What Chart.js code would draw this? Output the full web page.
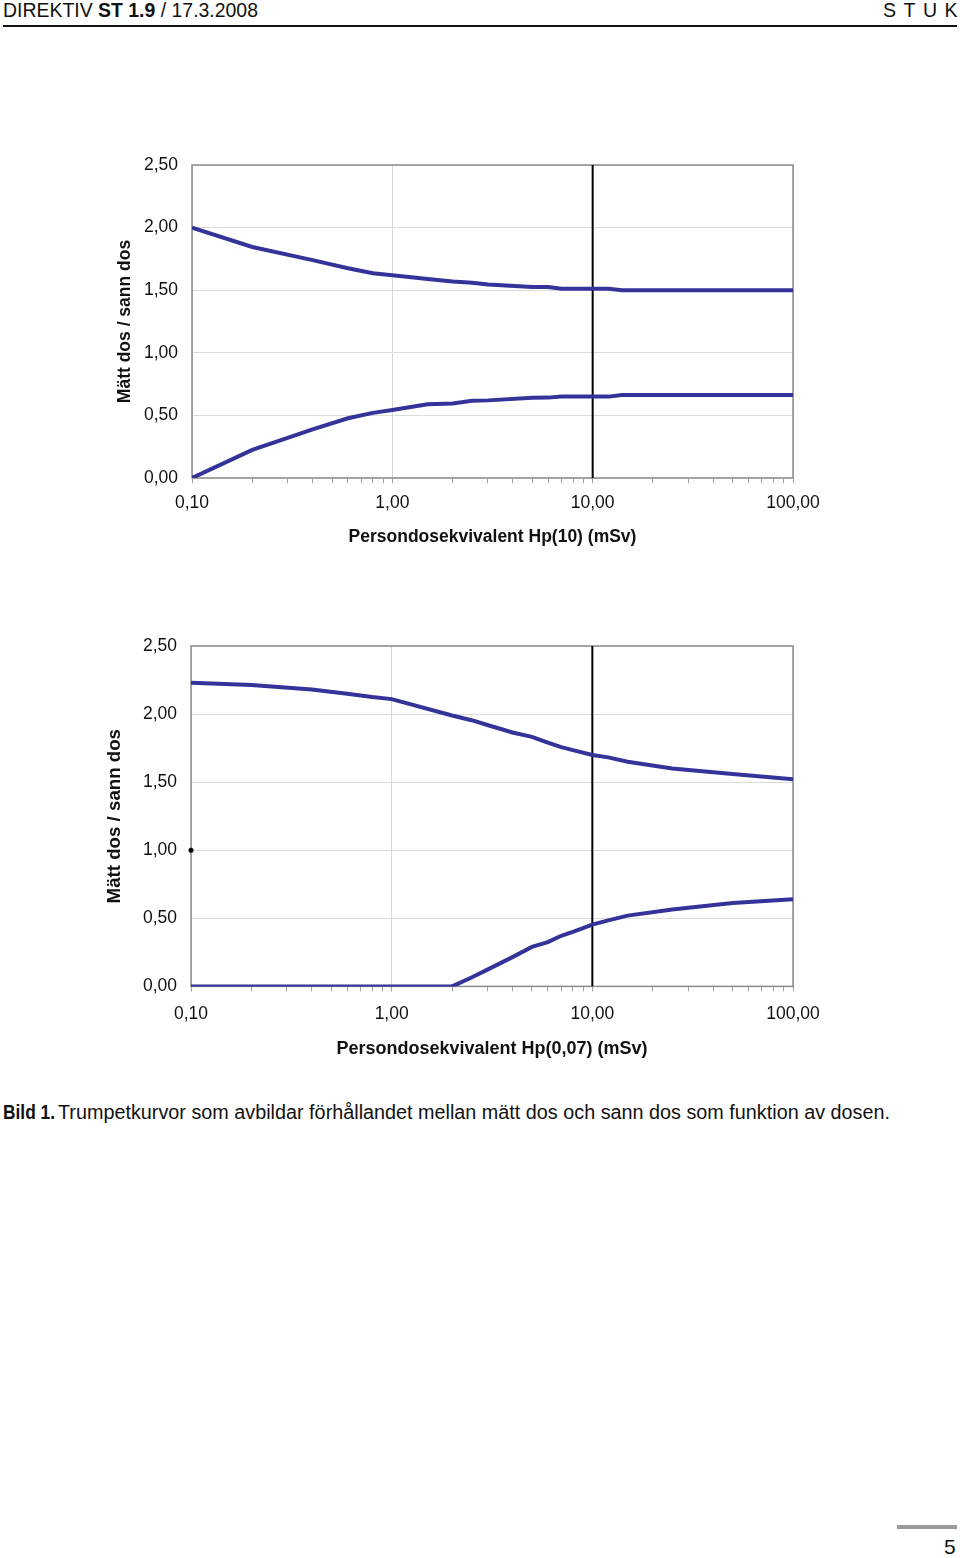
<!DOCTYPE html>
<html>
<head>
<meta charset="utf-8">
<script src="https://cdn.jsdelivr.net/npm/chart.js@4.4.1/dist/chart.umd.min.js"></script>
<style>
  body { margin: 0; background: #fff; width: 960px; height: 1558px; position: relative; overflow: hidden; }
  .abs { position: absolute; white-space: nowrap; }
  .fit { font-family: "Liberation Sans", Arial, sans-serif; color: #111; transform-origin: 0 0; }
  #header { left: 3px; top: -2px; font-size: 21px; }
  #stuk { left: 883px; top: -2px; font-size: 21px; letter-spacing: 8px; }
  #rule { left: 3px; top: 25px; width: 954px; height: 2px; background: #111; }
  #capBold { left: 3px; top: 1101px; font-size: 20px; font-weight: bold; }
  #caption { left: 58px; top: 1101px; font-size: 20px; }
  #pageRule { left: 897px; top: 1525px; width: 60px; height: 4px; background: #9a9a9a; }
  #pageNo { left: 944px; top: 1535px; font-family: "Liberation Sans", sans-serif; font-size: 21px; color: #111; }
</style>
</head>
<body>
<div id="header" class="abs fit" data-w="255">DIREKTIV <b>ST 1.9</b> / 17.3.2008</div>
<div id="stuk" class="abs fit" data-w="82">STUK</div>
<div id="rule" class="abs"></div>

<div class="abs" style="left:100px; top:140px; width:760px; height:420px;"><canvas id="topChart"></canvas></div>
<div class="abs" style="left:90px; top:620px; width:770px; height:450px;"><canvas id="bottomChart"></canvas></div>

<div id="capBold" class="abs fit" data-w="52">Bild 1.</div>
<div id="caption" class="abs fit" data-w="832">Trumpetkurvor som avbildar förhållandet mellan mätt dos och sann dos som funktion av dosen.</div>
<div id="pageRule" class="abs"></div>
<div id="pageNo" class="abs">5</div>

<script>
// x axis ticks (log scale), labelled ones and minor ones
const doseTicks = [0.1, 0.2, 0.3, 0.4, 0.5, 0.6, 0.7, 0.8, 0.9,
                   1, 2, 3, 4, 5, 6, 7, 8, 9,
                   10, 20, 30, 40, 50, 60, 70, 80, 90, 100];
const doseMajor = [0.1, 1, 10, 100];
const doseLabels = ['0,10', '1,00', '10,00', '100,00'];

// vertical reference line at 10 mSv
const limitDose = [10, 10];
const limitRatio = [0, 2.5];

// Hp(10) chart
const topDose  = [0.1, 0.2, 0.4, 0.6, 0.8, 1, 1.5, 2, 2.5, 3, 5, 6, 7, 10, 12, 14, 100];
const topUpper = [2.00, 1.845, 1.74, 1.675, 1.635, 1.62, 1.59, 1.57, 1.56, 1.545, 1.525, 1.525, 1.512, 1.512, 1.512, 1.50, 1.50];
const topLower = [0.00, 0.224, 0.389, 0.477, 0.52, 0.543, 0.589, 0.596, 0.617, 0.62, 0.64, 0.642, 0.65, 0.65, 0.65, 0.663, 0.663];

// Hp(0,07) chart
const botDose  = [0.1, 0.2, 0.4, 0.6, 0.8, 1, 2, 2.5, 3, 4, 5, 6, 7, 8, 10, 12, 15, 25, 50, 100];
const botUpper = [2.23, 2.213, 2.18, 2.15, 2.125, 2.11, 1.99, 1.955, 1.92, 1.865, 1.833, 1.79, 1.757, 1.735, 1.70, 1.682, 1.65, 1.60, 1.56, 1.522];
const botLower = [0, 0, 0, 0, 0, 0, 0, 0.065, 0.123, 0.215, 0.29, 0.325, 0.372, 0.40, 0.454, 0.485, 0.52, 0.564, 0.613, 0.64];
const botMarkDose = [0.1];
const botMarkRatio = [1.0];

const yTicks = [0, 0.5, 1, 1.5, 2, 2.5];

const blue = '#333399';
const fontFamily = "'Liberation Sans', Arial, sans-serif";

// squeeze header/caption text to the narrow print width
document.querySelectorAll('.fit').forEach(el => {
  const w = el.getBoundingClientRect().width;
  el.style.transform = 'scaleX(' + (el.dataset.w / w) + ')';
});

function pts(xs, ys) {
  return xs.map((x, i) => ({ x: x, y: ys[i] }));
}

function isMajor(v) {
  return doseMajor.some(m => Math.abs(m - v) < 1e-9);
}

const frame = {
  id: 'frame',
  beforeDatasetsDraw(chart) {
    const a = chart.chartArea, ctx = chart.ctx;
    ctx.save();
    ctx.strokeStyle = '#8a8a8a';
    ctx.lineWidth = 1.5;
    ctx.strokeRect(a.left, a.top, a.right - a.left, a.bottom - a.top);
    ctx.restore();
  }
};

function makeChart(id, dose, upper, lower, extra, cfg) {
  const datasets = [
    { data: pts(dose, upper), borderColor: blue, borderWidth: 4, pointRadius: 0, tension: 0 },
    { data: pts(dose, lower), borderColor: blue, borderWidth: 4, pointRadius: 0, tension: 0 },
    { data: pts(limitDose, limitRatio), borderColor: '#000', borderWidth: 2, pointRadius: 0 }
  ];
  if (extra) datasets.push(extra);

  return new Chart(document.getElementById(id), {
    type: 'line',
    data: { datasets: datasets },
    options: {
      responsive: true,
      maintainAspectRatio: false,
      animation: false,
      layout: { padding: cfg.padding },
      plugins: { legend: { display: false }, tooltip: { enabled: false } },
      scales: {
        x: {
          type: 'logarithmic',
          min: 0.1,
          max: 100,
          afterBuildTicks: s => { s.ticks = doseTicks.map(v => ({ value: v, major: isMajor(v) })); },
          ticks: {
            autoSkip: false,
            maxRotation: 0,
            padding: cfg.xTickPad,
            color: '#111',
            font: { family: fontFamily, size: 17.5 },
            callback: v => {
              const i = doseMajor.findIndex(m => Math.abs(m - v) < 1e-9);
              return i >= 0 ? doseLabels[i] : '';
            }
          },
          grid: {
            color: c => (c.tick && isMajor(c.tick.value)) ? '#d6d6d6' : 'rgba(0,0,0,0)',
            tickColor: '#a0a0a0',
            tickLength: 5,
            lineWidth: 1
          },
          border: { display: false },
          title: {
            display: true,
            text: cfg.xTitle,
            color: '#111',
            padding: { top: cfg.xTitlePad, bottom: 0 },
            font: { family: fontFamily, size: cfg.titleSize, weight: 'bold' }
          }
        },
        y: {
          min: 0,
          max: 2.5,
          afterBuildTicks: s => { s.ticks = yTicks.map(v => ({ value: v })); },
          afterFit: s => { s.width = cfg.yWidth; },
          ticks: {
            padding: 14,
            color: '#111',
            font: { family: fontFamily, size: 17.5 },
            callback: v => v.toFixed(2).replace('.', ',')
          },
          grid: { color: '#dcdcdc', drawTicks: false, lineWidth: 1 },
          border: { display: false },
          title: {
            display: true,
            text: 'Mätt dos / sann dos',
            color: '#111',
            padding: { top: cfg.yTitlePad, bottom: 0 },
            font: { family: fontFamily, size: cfg.yTitleSize, weight: 'bold' }
          }
        }
      }
    },
    plugins: [frame]
  });
}

makeChart('topChart', topDose, topUpper, topLower, null, {
  padding: { top: 25, left: 0, right: 67, bottom: 12 },
  yWidth: 92, yTitlePad: 15, yTitleSize: 17.5,
  xTickPad: 10, xTitlePad: 3, titleSize: 17.5,
  xTitle: 'Persondosekvivalent Hp(10) (mSv)'
});

makeChart('bottomChart', botDose, botUpper, botLower, {
  data: pts(botMarkDose, botMarkRatio), showLine: false, clip: false,
  pointRadius: 2.5, pointBackgroundColor: '#000', pointBorderWidth: 0
}, {
  padding: { top: 26, left: 0, right: 67, bottom: 10 },
  yWidth: 101, yTitlePad: 14, yTitleSize: 18.7,
  xTickPad: 12, xTitlePad: 2, titleSize: 18,
  xTitle: 'Persondosekvivalent Hp(0,07) (mSv)'
});
</script>
</body>
</html>
